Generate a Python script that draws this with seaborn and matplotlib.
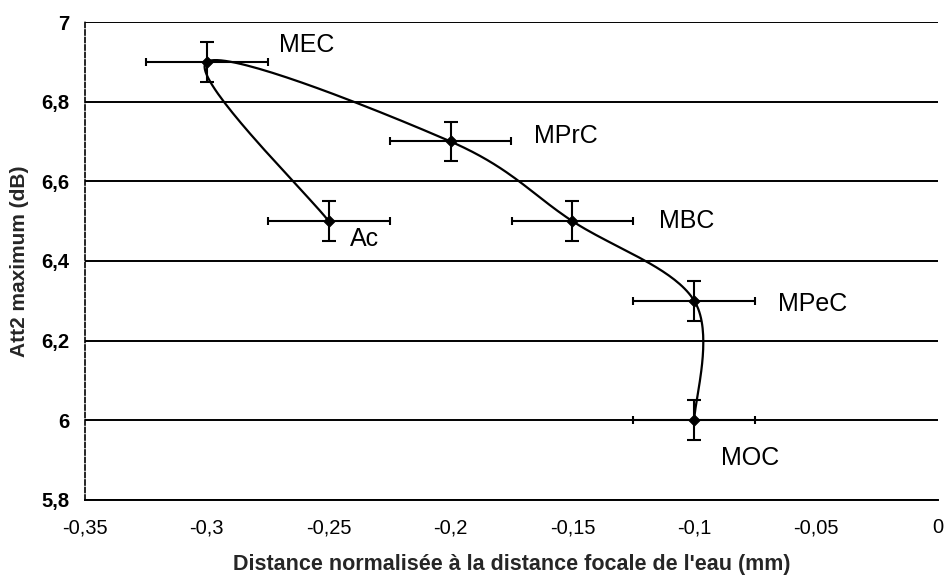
import numpy as np
import matplotlib
matplotlib.use("Agg")
import matplotlib.pyplot as plt
import seaborn as sns

# ---- data ----
labels = ["Ac", "MEC", "MPrC", "MBC", "MPeC", "MOC"]
x_vals = [-0.25, -0.30, -0.20, -0.15, -0.10, -0.10]
y_vals = [6.5, 6.9, 6.7, 6.5, 6.3, 6.0]
x_err = [0.025, 0.025, 0.025, 0.025, 0.025, 0.025]
y_err = [0.05, 0.05, 0.05, 0.05, 0.05, 0.05]
x_ticks = [-0.35, -0.3, -0.25, -0.2, -0.15, -0.1, -0.05, 0]
x_ticklabels = ["-0,35", "-0,3", "-0,25", "-0,2", "-0,15", "-0,1", "-0,05", "0"]
y_ticks = [5.8, 6.0, 6.2, 6.4, 6.6, 6.8, 7.0]
y_ticklabels = ["5,8", "6", "6,2", "6,4", "6,6", "6,8", "7"]

# label offsets (points) - layout only
label_offsets = {"Ac": (15, -13), "MEC": (52, 12), "MPrC": (60, 4),
                 "MBC": (62, 0), "MPeC": (60, -2), "MOC": (19, -27)}

sns.set_style("white")
plt.rcParams["font.family"] = ["Liberation Sans", "DejaVu Sans"]

W, H = 945, 577
fig = plt.figure(figsize=(W / 100, H / 100), dpi=100)
ax_l, ax_b, ax_w, ax_h = 85 / W, 77 / H, 853 / W, 478 / H
ax = fig.add_axes([ax_l, ax_b, ax_w, ax_h])

xmin, xmax = -0.35, 0.0
ymin, ymax = 5.8, 7.0

# Excel-style smoothed line (Bezier, 1/6 tension) computed in screen-like space
sx = ax_w * W / (xmax - xmin)
sy = ax_h * H / (ymax - ymin)
P = np.column_stack([(np.array(x_vals) - xmin) * sx, (np.array(y_vals) - ymin) * sy])
n = len(P)
curve = []
t = np.linspace(0, 1, 40)
for i in range(n - 1):
    p0 = P[max(i - 1, 0)]
    p1 = P[i]
    p2 = P[i + 1]
    p3 = P[min(i + 2, n - 1)]
    c1 = p1 + (p2 - p0) / 6.0
    c2 = p2 - (p3 - p1) / 6.0
    seg = ((1 - t) ** 3)[:, None] * p1 + (3 * (1 - t) ** 2 * t)[:, None] * c1 \
        + (3 * (1 - t) * t ** 2)[:, None] * c2 + (t ** 3)[:, None] * p2
    curve.append(seg if i == 0 else seg[1:])
curve = np.vstack(curve)
cx = curve[:, 0] / sx + xmin
cy = curve[:, 1] / sy + ymin

sns.lineplot(x=cx, y=cy, sort=False, estimator=None, color="black", lw=1.6, ax=ax, zorder=3)

# error bars
ax.errorbar(x_vals, y_vals, xerr=x_err, fmt="none", ecolor="black", elinewidth=1.5,
            capsize=3, capthick=1.5, zorder=4)
ax.errorbar(x_vals, y_vals, yerr=y_err, fmt="none", ecolor="black", elinewidth=1.5,
            capsize=5, capthick=1.5, zorder=4)
sns.scatterplot(x=x_vals, y=y_vals, marker="D", s=35, color="black", edgecolor="black",
                ax=ax, zorder=5)

for lab, xv, yv in zip(labels, x_vals, y_vals):
    ax.annotate(lab, (xv, yv), xytext=label_offsets[lab], textcoords="offset points",
                ha="left", va="center", fontsize=18, color="black")

ax.set_xlim(xmin, xmax)
ax.set_ylim(ymin, ymax)
ax.set_xticks(x_ticks)
ax.set_xticklabels(x_ticklabels)
ax.set_yticks(y_ticks)
ax.set_yticklabels(y_ticklabels)
ax.tick_params(axis="x", direction="out", length=4, width=1.2, pad=9, labelsize=14.5, colors="black")
ax.tick_params(axis="y", direction="out", length=4, width=1.2, pad=7, labelsize=14.5, colors="black")
for lab in ax.get_yticklabels():
    lab.set_fontweight("bold")

ax.yaxis.grid(True, color="black", lw=1.4)
ax.xaxis.grid(False)
ax.set_axisbelow(True)

for s in ["top", "right"]:
    ax.spines[s].set_visible(False)
ax.spines["left"].set_linestyle((0, (3, 1.5)))
ax.spines["left"].set_linewidth(1.2)
ax.spines["left"].set_color("black")
ax.spines["bottom"].set_linewidth(1.4)
ax.spines["bottom"].set_color("black")

ax.set_xlabel("Distance normalisée à la distance focale de l'eau (mm)", fontsize=15.5,
              fontweight="bold", labelpad=12)
ax.set_ylabel("Att2 maximum (dB)", fontsize=15, fontweight="bold", labelpad=9)

fig.savefig("out.png", dpi=100)
